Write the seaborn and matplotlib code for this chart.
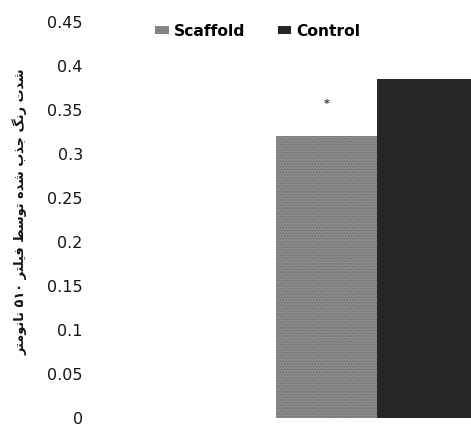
import matplotlib
matplotlib.use("Agg")
import matplotlib.pyplot as plt
from matplotlib.patches import Patch
import seaborn as sns
import pandas as pd

# ---- data ----
groups = ["Scaffold", "Control"]
values = [0.32, 0.385]
yticks = [0, 0.05, 0.1, 0.15, 0.2, 0.25, 0.3, 0.35, 0.4, 0.45]
ylabel_fa = "شدت رنگ جذب شده توسط فیلتر ۵۱۰ نانومتر"
colors = {"Scaffold": "#8b8b8b", "Control": "#262828"}

# ---- minimal Persian shaping (presentation forms) ----
FORMS = {  # iso, fin, init, med
    "ش": ("\uFEB5", "\uFEB6", "\uFEB7", "\uFEB8"),
    "د": ("\uFEA9", "\uFEAA", None, None),
    "ت": ("\uFE95", "\uFE96", "\uFE97", "\uFE98"),
    "ر": ("\uFEAD", "\uFEAE", None, None),
    "ن": ("\uFEE5", "\uFEE6", "\uFEE7", "\uFEE8"),
    "گ": ("\uFB92", "\uFB93", "\uFB94", "\uFB95"),
    "ج": ("\uFE9D", "\uFE9E", "\uFE9F", "\uFEA0"),
    "ذ": ("\uFEAB", "\uFEAC", None, None),
    "ب": ("\uFE8F", "\uFE90", "\uFE91", "\uFE92"),
    "ه": ("\uFEE9", "\uFEEA", "\uFEEB", "\uFEEC"),
    "و": ("\uFEED", "\uFEEE", None, None),
    "س": ("\uFEB1", "\uFEB2", "\uFEB3", "\uFEB4"),
    "ط": ("\uFEC1", "\uFEC2", "\uFEC3", "\uFEC4"),
    "ف": ("\uFED1", "\uFED2", "\uFED3", "\uFED4"),
    "ی": ("\uFBFC", "\uFBFD", "\uFBFE", "\uFBFF"),
    "ل": ("\uFEDD", "\uFEDE", "\uFEDF", "\uFEE0"),
    "ا": ("\uFE8D", "\uFE8E", None, None),
    "م": ("\uFEE1", "\uFEE2", "\uFEE3", "\uFEE4"),
}


def shape_word(w):
    if all(c not in FORMS for c in w):
        return w
    out = []
    for i, c in enumerate(w):
        f = FORMS[c]
        prev_joins = i > 0 and FORMS[w[i - 1]][2] is not None
        can_next = f[2] is not None and i < len(w) - 1
        if prev_joins and can_next:
            out.append(f[3])
        elif prev_joins:
            out.append(f[1])
        elif can_next:
            out.append(f[2])
        else:
            out.append(f[0])
    return "".join(reversed(out))


def visual(text):
    return " ".join(shape_word(w) for w in reversed(text.split(" ")))


plt.rcParams["hatch.linewidth"] = 0.6
df = pd.DataFrame({"x": ["g", "g"], "group": groups, "value": values})

fig = plt.figure(figsize=(4.71, 4.28), dpi=100)
ax = fig.add_axes([105 / 471, 10 / 428, (471 - 105) / 471, (418 - 22) / 428])
sns.barplot(data=df, x="x", y="value", hue="group", palette=colors,
            hue_order=groups, width=0.8, ax=ax, legend=False, saturation=1)
for p in ax.patches:
    p.set_edgecolor("none")
ax.patches[0].set_hatch("......")
ax.patches[0].set_edgecolor("#6e6e6e")
ax.patches[0].set_linewidth(0)

ax.set_xlim(-1.077, 0.372)
ax.set_ylim(0, 0.45)
ax.set_yticks(yticks)
ax.set_yticklabels([("%g" % t) for t in yticks], fontsize=11.5,
                   color="#151515")
ax.tick_params(axis="y", length=0, pad=16)
ax.set_xticks([])
ax.set_xlabel("")
ax.set_ylabel("")
for s in ax.spines.values():
    s.set_visible(False)

fig.text(20 / 471, 1 - 212 / 428, visual(ylabel_fa), rotation=90,
         ha="center", va="center", fontsize=9.3, fontweight="bold",
         family="DejaVu Sans", color="#111111")

ax.text(-0.2, 0.357, "*", ha="center", va="center", fontsize=8,
        color="#333333", fontweight="bold")

handles = [Patch(facecolor=colors["Scaffold"], hatch="......", edgecolor="#6e6e6e", linewidth=0),
           Patch(facecolor=colors["Control"], edgecolor="none")]
fig.legend(handles, groups, loc="center", bbox_to_anchor=(258 / 471, 1 - 31 / 428),
           ncol=2, frameon=False, handlelength=0.85, handleheight=0.5,
           handletextpad=0.35, columnspacing=2.1,
           prop={"weight": "bold", "size": 11.2})

fig.savefig("out.png", dpi=100)
